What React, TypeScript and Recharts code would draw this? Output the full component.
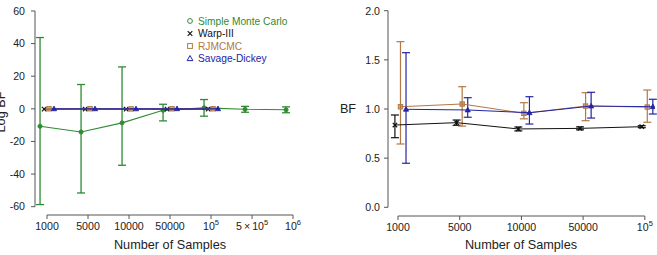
import React from 'react';
import { ComposedChart, Scatter, XAxis, YAxis, ErrorBar, ReferenceLine } from 'recharts';

// ---------- data ----------
const leftTickLabels = ['1000', '5000', '10000', '50000', '10^5', '5\u2009×\u200910^5', '10^6'];
const rightTickLabels = ['1000', '5000', '10000', '50000', '10^5'];

// Left panel: log Bayes factor
const smcMean = [-10.7, -14.2, -8.6, -0.9, 0.6, -0.3, -0.6];
const smcLow = [-58.7, -51.6, -34.6, -7.4, -4.5, -2.1, -2.4];
const smcHigh = [43.7, 14.9, 25.7, 2.8, 5.7, 1.5, 1.2];
const warpLog = [-0.18, -0.15, -0.23, -0.22, -0.2];
const rjLog = [0.02, 0.05, -0.05, 0.03, 0.02];
const sdLog = [0.0, -0.01, -0.04, 0.03, 0.02];

// Right panel: Bayes factor
const warpBF = [0.837, 0.861, 0.797, 0.803, 0.82];
const warpLow = [0.708, 0.834, 0.777, 0.788, 0.81];
const warpHigh = [0.939, 0.888, 0.817, 0.818, 0.83];
const rjBF = [1.023, 1.051, 0.956, 1.03, 1.02];
const rjLow = [0.644, 0.826, 0.9, 0.881, 0.865];
const rjHigh = [1.685, 1.227, 1.064, 1.166, 1.193];
const sdBF = [0.997, 0.99, 0.962, 1.03, 1.023];
const sdLow = [0.448, 0.916, 0.847, 0.908, 0.949];
const sdHigh = [1.573, 1.115, 1.125, 1.17, 1.099];

const seriesNames = ['Simple Monte Carlo', 'Warp-III', 'RJMCMC', 'Savage-Dickey'];

// ---------- styles ----------
const GREEN = '#2f8a34';
const BLACK = '#111111';
const BROWN = '#b27845';
const BLUE = '#2424a6';
const AXIS = '#555555';
const TEXT = '#222222';
const FONT = '"Liberation Sans", Arial, Helvetica, sans-serif';

const build = (vals: number[], off: number, low?: number[], high?: number[]) =>
  vals.map((v, i) => ({
    x: i + off,
    y: v,
    err: low && high ? [v - low[i], high[i] - v] : [0, 0],
  }));

const circleShape = (color: string) => (p: any) => (
  <circle cx={p.cx} cy={p.cy} r={2.1} fill={color} stroke={color} strokeWidth={0.8} />
);
const crossShape = (color: string) => (p: any) => (
  <g stroke={color} strokeWidth={1.2}>
    <line x1={p.cx - 2.2} y1={p.cy - 2.2} x2={p.cx + 2.2} y2={p.cy + 2.2} />
    <line x1={p.cx - 2.2} y1={p.cy + 2.2} x2={p.cx + 2.2} y2={p.cy - 2.2} />
  </g>
);
const squareShape = (color: string) => (p: any) => (
  <rect x={p.cx - 2.2} y={p.cy - 2.2} width={4.4} height={4.4} fill={color} fillOpacity={0.6} stroke={color} strokeWidth={1} />
);
const triShape = (color: string) => (p: any) => (
  <path d={`M${p.cx},${p.cy - 2.8}L${p.cx + 2.6},${p.cy + 1.9}L${p.cx - 2.6},${p.cy + 1.9}Z`} fill={color} stroke={color} strokeWidth={0.8} />
);

const makeXTick = (labels: string[], dy: number) => (props: any) => {
  const { x, y, payload } = props;
  const lab = labels[Math.round(payload.value)] ?? '';
  const parts = lab.split('^');
  return (
    <text x={x} y={y + dy} textAnchor="middle" fontSize={10.6} fill={TEXT} fontFamily={FONT}>
      <tspan>{parts[0]}</tspan>
      {parts[1] ? (
        <tspan dy={-5} fontSize={7.5}>
          {parts[1]}
        </tspan>
      ) : null}
    </text>
  );
};

const makeYTick = (fmt: (v: number) => string, dx: number) => (props: any) => {
  const { x, y, payload } = props;
  return (
    <text x={x + dx} y={y + 3.8} textAnchor="end" fontSize={10.6} fill={TEXT} fontFamily={FONT}>
      {fmt(payload.value)}
    </text>
  );
};

// ---------- left chart ----------
const LX: [number, number] = [-0.293, 6.17];
const LY: [number, number] = [-65.1, 63.66];
const leftYTicks = [-60, -40, -20, 0, 20, 40, 60];

const smcData = build(smcMean, -0.17, smcLow, smcHigh);
const warpLData = build(warpLog, -0.07);
const rjLData = build(rjLog, 0.05);
const sdLData = build(sdLog, 0.17);

const RX: [number, number] = [-0.162, 4.165];
const RY: [number, number] = [-0.0885, 2.058];
const rightYTicks = [0, 0.5, 1, 1.5, 2];

const warpRData = build(warpBF, -0.05, warpLow, warpHigh);
const rjRData = build(rjBF, 0.04, rjLow, rjHigh);
const sdRData = build(sdBF, 0.13, sdLow, sdHigh);

function LeftChart() {
  return (
    <ComposedChart width={330} height={255} margin={{ top: 5, right: 30, bottom: 0, left: 0 }}>
      <XAxis
        type="number"
        dataKey="x"
        domain={LX}
        allowDataOverflow
        ticks={[0, 1, 2, 3, 4, 5, 6]}
        interval={0}
        axisLine={false}
        tickLine={{ stroke: AXIS, strokeWidth: 1 }}
        tickSize={4}
        height={40}
        tick={makeXTick(leftTickLabels, 9)}
      />
      <YAxis
        type="number"
        dataKey="y"
        domain={LY}
        allowDataOverflow
        ticks={leftYTicks}
        interval={0}
        axisLine={false}
        tickLine={{ stroke: AXIS, strokeWidth: 1 }}
        tickSize={4}
        width={35}
        tick={makeYTick((v) => String(v), -4)}
      />
      <ReferenceLine segment={[{ x: LX[0], y: -60 }, { x: LX[0], y: 60 }]} stroke={AXIS} strokeWidth={1} ifOverflow="visible" />
      <ReferenceLine segment={[{ x: 0, y: LY[0] }, { x: 6, y: LY[0] }]} stroke={AXIS} strokeWidth={1} ifOverflow="visible" />
      <Scatter name={seriesNames[0]} data={smcData} line={{ stroke: GREEN, strokeWidth: 1.1 }} shape={circleShape(GREEN)} isAnimationActive={false}>
        <ErrorBar dataKey="err" direction="y" width={4} stroke={GREEN} strokeWidth={1.3} />
      </Scatter>
      <Scatter name={seriesNames[1]} data={warpLData} line={{ stroke: BLACK, strokeWidth: 1 }} shape={crossShape(BLACK)} isAnimationActive={false} />
      <Scatter name={seriesNames[2]} data={rjLData} line={{ stroke: BROWN, strokeWidth: 1 }} shape={squareShape(BROWN)} isAnimationActive={false} />
      <Scatter name={seriesNames[3]} data={sdLData} line={{ stroke: BLUE, strokeWidth: 1.2 }} shape={triShape(BLUE)} isAnimationActive={false} />
    </ComposedChart>
  );
}

function RightChart() {
  return (
    <ComposedChart width={327} height={255} margin={{ top: 5, right: 2, bottom: 0, left: 0 }}>
      <XAxis
        type="number"
        dataKey="x"
        domain={RX}
        allowDataOverflow
        ticks={[0, 1, 2, 3, 4]}
        interval={0}
        axisLine={false}
        tickLine={{ stroke: AXIS, strokeWidth: 1 }}
        tickSize={4}
        height={39}
        tick={makeXTick(rightTickLabels, 9)}
      />
      <YAxis
        type="number"
        dataKey="y"
        domain={RY}
        allowDataOverflow
        ticks={rightYTicks}
        interval={0}
        axisLine={false}
        tickLine={{ stroke: AXIS, strokeWidth: 1 }}
        tickSize={4}
        width={58}
        tick={makeYTick((v) => v.toFixed(1), -2)}
      />
      <ReferenceLine segment={[{ x: RX[0], y: 0 }, { x: RX[0], y: 2 }]} stroke={AXIS} strokeWidth={1} ifOverflow="visible" />
      <ReferenceLine segment={[{ x: 0, y: RY[0] }, { x: 4, y: RY[0] }]} stroke={AXIS} strokeWidth={1} ifOverflow="visible" />
      <Scatter name={seriesNames[1]} data={warpRData} line={{ stroke: BLACK, strokeWidth: 1 }} shape={crossShape(BLACK)} isAnimationActive={false}>
        <ErrorBar dataKey="err" direction="y" width={4} stroke={BLACK} strokeWidth={1.2} />
      </Scatter>
      <Scatter name={seriesNames[2]} data={rjRData} line={{ stroke: BROWN, strokeWidth: 1 }} shape={squareShape(BROWN)} isAnimationActive={false}>
        <ErrorBar dataKey="err" direction="y" width={4} stroke={BROWN} strokeWidth={1.2} />
      </Scatter>
      <Scatter name={seriesNames[3]} data={sdRData} line={{ stroke: BLUE, strokeWidth: 1 }} shape={triShape(BLUE)} isAnimationActive={false}>
        <ErrorBar dataKey="err" direction="y" width={4} stroke={BLUE} strokeWidth={1.2} />
      </Scatter>
    </ComposedChart>
  );
}

const legendColors = [GREEN, BLACK, BROWN, BLUE];

function LegendMarker({ i, x, y }: { i: number; x: number; y: number }) {
  const c = legendColors[i];
  if (i === 0) return <circle cx={x} cy={y} r={2.4} fill="none" stroke={c} strokeWidth={1} />;
  if (i === 1)
    return (
      <g stroke={c} strokeWidth={1.1}>
        <line x1={x - 2.3} y1={y - 2.3} x2={x + 2.3} y2={y + 2.3} />
        <line x1={x - 2.3} y1={y + 2.3} x2={x + 2.3} y2={y - 2.3} />
      </g>
    );
  if (i === 2) return <rect x={x - 2.4} y={y - 2.4} width={4.8} height={4.8} fill="none" stroke={c} strokeWidth={1} />;
  return <path d={`M${x},${y - 3}L${x + 2.9},${y + 2.1}L${x - 2.9},${y + 2.1}Z`} fill="none" stroke={c} strokeWidth={1} />;
}

export default function App() {
  const rows = [21, 33.5, 46, 58.5];
  return (
    <div style={{ position: 'fixed', left: 0, top: 0, width: 657, height: 255, background: '#fff', overflow: 'hidden', fontFamily: FONT }}>
      <div style={{ position: 'absolute', left: 0, top: 0 }}>
        <LeftChart />
      </div>
      <div style={{ position: 'absolute', left: 330, top: 0 }}>
        <RightChart />
      </div>
      <svg width={657} height={255} style={{ position: 'absolute', left: 0, top: 0, pointerEvents: 'none' }}>
        {seriesNames.map((n, i) => (
          <g key={n}>
            <LegendMarker i={i} x={190} y={rows[i]} />
            <text x={198} y={rows[i] + 3.6} fontSize={10.2} fill={legendColors[i]} fontFamily={FONT}>
              {n}
            </text>
          </g>
        ))}
        <text x={5} y={112} transform="rotate(-90 5 112)" textAnchor="middle" fontSize={12.7} fill={TEXT} fontFamily={FONT}>
          Log BF
        </text>
        <text x={170} y={249} textAnchor="middle" fontSize={12.7} fill={TEXT} fontFamily={FONT}>
          Number of Samples
        </text>
        <text x={521} y={249} textAnchor="middle" fontSize={12.7} fill={TEXT} fontFamily={FONT}>
          Number of Samples
        </text>
        <text x={348} y={113} textAnchor="middle" fontSize={12.7} fill={TEXT} fontFamily={FONT}>
          BF
        </text>
      </svg>
    </div>
  );
}
